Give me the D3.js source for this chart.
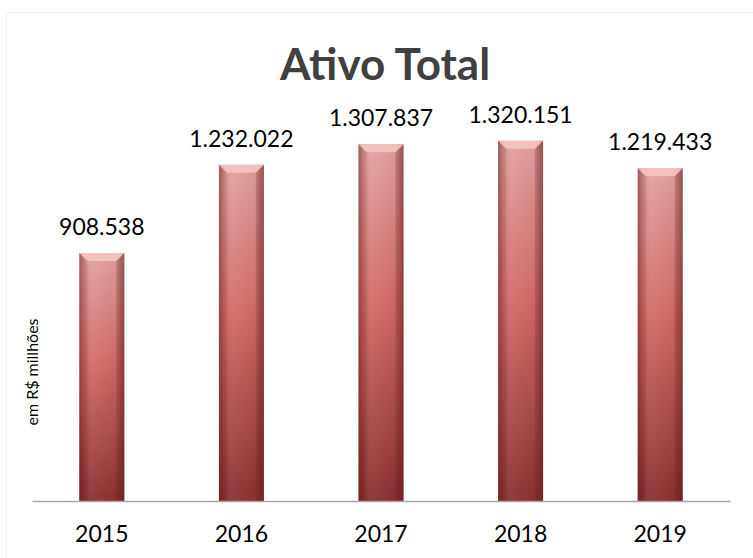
<!DOCTYPE html>
<html>
<meta charset="utf-8">
<head>
  <script src="https://d3js.org/d3.v7.min.js"></script>
  <style>
    body { margin:0; background:#fff; }
    text { font-family: Lato, "Open Sans", sans-serif; }
  </style>
</head>
<body>
<script>
    // data
    var years = ['2015','2016','2017','2018','2019'] ;
    var values = [908538, 1232022, 1307837, 1320151, 1219433] ;
    var labels = ['908.538','1.232.022','1.307.837','1.320.151','1.219.433'] ;
    var title = 'Ativo Total' ;
    var ylabel = 'em R$ millhões' ;

    const W = 753, H = 558 ;
    const plotLeft = 32, plotRight = 730, plotTop = 119, base = 501 ;

    var svg = d3.select('body').append('svg').attr('width',W).attr('height',H) ;

    // faint chart border
    svg.append('rect').attr('x',6.5).attr('y',12.5).attr('width',760).attr('height',600)
	.attr('fill','#fff').attr('stroke','#f0f0f0') ;

    var x = d3.scaleBand().domain(years).range([plotLeft,plotRight]).paddingInner(0.678).paddingOuter(0.339) ;
    var y = d3.scaleLinear().domain([0,1400000]).range([base,plotTop]) ;

    var defs = svg.append('defs') ;
    var vg = defs.append('linearGradient').attr('id','vg').attr('x1',0).attr('y1',0).attr('x2',0).attr('y2',1) ;
    vg.append('stop').attr('offset','0%').attr('stop-color','#e3a2a1') ;
    vg.append('stop').attr('offset','45%').attr('stop-color','#d26a69') ;
    vg.append('stop').attr('offset','100%').attr('stop-color','#8a3031') ;
    var hg = defs.append('linearGradient').attr('id','hg').attr('x1',0).attr('y1',0).attr('x2',1).attr('y2',0) ;
    hg.append('stop').attr('offset','0%').attr('stop-color','#5a1a1a').attr('stop-opacity',0.45) ;
    hg.append('stop').attr('offset','12%').attr('stop-color','#5a1a1a').attr('stop-opacity',0.12) ;
    hg.append('stop').attr('offset','30%').attr('stop-color','#fff').attr('stop-opacity',0.05) ;
    hg.append('stop').attr('offset','80%').attr('stop-color','#5a1a1a').attr('stop-opacity',0.05) ;
    hg.append('stop').attr('offset','100%').attr('stop-color','#5a1a1a').attr('stop-opacity',0.5) ;

    var data = years.map((d,i)=>({year:d, value:values[i], label:labels[i]})) ;

    var bars = svg.append('g').selectAll('g').data(data).join('g') ;
    bars.append('rect')
	.attr('x',d=>x(d.year)).attr('y',d=>y(d.value))
	.attr('width',x.bandwidth()).attr('height',d=>base-y(d.value))
	.attr('fill','url(#vg)') ;
    bars.append('rect')
	.attr('x',d=>x(d.year)).attr('y',d=>y(d.value))
	.attr('width',x.bandwidth()).attr('height',d=>base-y(d.value))
	.attr('fill','url(#hg)') ;
    // top bevel
    const bv = 8 ;
    bars.append('path')
	.attr('d',d=>{ const x0=x(d.year), x1=x0+x.bandwidth(), t=y(d.value) ;
	    return `M${x0},${t}L${x1},${t}L${x1-bv},${t+bv}L${x0+bv},${t+bv}Z` })
	.attr('fill','#f4c8c6').attr('opacity',0.85) ;
    bars.append('path')
	.attr('d',d=>{ const x0=x(d.year), t=y(d.value) ;
	    return `M${x0},${t}L${x0+bv},${t+bv}L${x0+bv},${base}L${x0},${base}Z` })
	.attr('fill','#6a1f1f').attr('opacity',0.12) ;
    bars.append('path')
	.attr('d',d=>{ const x1=x(d.year)+x.bandwidth(), t=y(d.value) ;
	    return `M${x1},${t}L${x1-bv},${t+bv}L${x1-bv},${base}L${x1},${base}Z` })
	.attr('fill','#6a1f1f').attr('opacity',0.18) ;

    // value labels
    svg.append('g').selectAll('text').data(data).join('text')
	.attr('x',d=>x(d.year)+x.bandwidth()/2).attr('y',d=>y(d.value)-18)
	.attr('text-anchor','middle').attr('font-size',23).attr('fill','#000')
	.text(d=>d.label) ;

    // x axis
    var xaxis = svg.append('g').attr('transform',`translate(0,${base})`)
	.call(d3.axisBottom(x).tickSize(0).tickPadding(30)) ;
    xaxis.select('.domain').attr('stroke','#a6a6a6').attr('stroke-width',1.5) ;
    xaxis.selectAll('text').attr('font-size',23).attr('fill','#000')
	.attr('font-family','Lato, "Open Sans", sans-serif').attr('dy',0) .attr('y',41) ;

    svg.append('text').attr('x',385).attr('y',80).attr('text-anchor','middle')
	.attr('font-size',44).attr('font-weight','bold').attr('fill','#404040').text(title) ;

    svg.append('text').attr('transform','translate(38,372) rotate(-90)')
	.attr('text-anchor','middle').attr('font-size',16).attr('fill','#000').text(ylabel) ;
</script>
</body>
</html>
